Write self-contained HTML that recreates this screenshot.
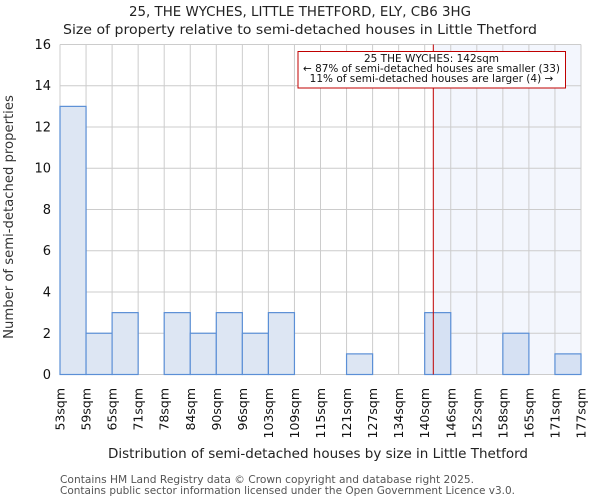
<!DOCTYPE html>
<html><head><meta charset="utf-8"><style>
html,body{margin:0;padding:0;background:#fff;}
svg{display:block;font-family:"DejaVu Sans","Liberation Sans",sans-serif;}
</style></head><body>
<svg width="600" height="500" viewBox="0 0 600 500" xmlns="http://www.w3.org/2000/svg">
<rect width="600" height="500" fill="#fff"/>
<text x="300" y="16" font-size="13.5" text-anchor="middle" fill="#222" textLength="342" lengthAdjust="spacingAndGlyphs">25, THE WYCHES, LITTLE THETFORD, ELY, CB6 3HG</text>
<text x="300" y="34" font-size="13.5" text-anchor="middle" fill="#222" textLength="474" lengthAdjust="spacingAndGlyphs">Size of property relative to semi-detached houses in Little Thetford</text>
<rect x="433.3" y="44.5" width="147.7" height="330" fill="#f3f6fd"/>
<g stroke="#cccccc" stroke-width="1">
<line x1="60" y1="374.5" x2="581" y2="374.5"/>
<line x1="60" y1="333.25" x2="581" y2="333.25"/>
<line x1="60" y1="292" x2="581" y2="292"/>
<line x1="60" y1="250.75" x2="581" y2="250.75"/>
<line x1="60" y1="209.5" x2="581" y2="209.5"/>
<line x1="60" y1="168.25" x2="581" y2="168.25"/>
<line x1="60" y1="127" x2="581" y2="127"/>
<line x1="60" y1="85.75" x2="581" y2="85.75"/>
<line x1="60" y1="44.5" x2="581" y2="44.5"/>
</g>
<g stroke="#cccccc" stroke-width="1" id="vg"></g>
<g id="bars" fill="#dde6f3" stroke="#5b8fd6" stroke-width="1.2"></g>
<line x1="433.3" y1="44.5" x2="433.3" y2="374.5" stroke="#c00000" stroke-width="1"/>
<rect x="298" y="51.5" width="267.5" height="36.5" fill="#fff" stroke="#c00000" stroke-width="1"/>
<g font-size="10.5" text-anchor="middle" fill="#111">
<text x="431.5" y="62">25 THE WYCHES: 142sqm</text>
<text x="431.5" y="72" textLength="257" lengthAdjust="spacingAndGlyphs">← 87% of semi-detached houses are smaller (33)</text>
<text x="431.5" y="82">11% of semi-detached houses are larger (4) →</text>
</g>
<g font-size="13" text-anchor="end" fill="#111">
<text x="51" y="379">0</text><text x="51" y="338">2</text><text x="51" y="296.5">4</text>
<text x="51" y="255">6</text><text x="51" y="214">8</text><text x="51" y="172.5">10</text>
<text x="51" y="131.5">12</text><text x="51" y="90">14</text><text x="51" y="49">16</text>
</g>
<g id="xl" font-size="12.5" fill="#111"></g>
<text transform="translate(13,217) rotate(-90)" font-size="13.2" text-anchor="middle" fill="#333">Number of semi-detached properties</text>
<text x="318" y="458" font-size="13.2" text-anchor="middle" fill="#222" textLength="420" lengthAdjust="spacingAndGlyphs">Distribution of semi-detached houses by size in Little Thetford</text>
<text x="60" y="483" font-size="10.3" fill="#555" textLength="414" lengthAdjust="spacingAndGlyphs">Contains HM Land Registry data © Crown copyright and database right 2025.</text>
<text x="60" y="494" font-size="10.3" fill="#555" textLength="455" lengthAdjust="spacingAndGlyphs">Contains public sector information licensed under the Open Government Licence v3.0.</text>
</svg>
<script>
var ns="http://www.w3.org/2000/svg",w=26.05,x0=60;
var vals=[13,2,3,0,3,2,3,2,3,0,0,1,0,0,3,0,0,2,0,1];
var labs=["53","59","65","71","78","84","90","96","103","109","115","121","127","134","140","146","152","158","165","171","177"];
var vg=document.getElementById("vg"),b=document.getElementById("bars"),xl=document.getElementById("xl");
for(var i=0;i<=20;i++){var l=document.createElementNS(ns,"line");var x=x0+i*w;l.setAttribute("x1",x);l.setAttribute("x2",x);l.setAttribute("y1",44.5);l.setAttribute("y2",374.5);vg.appendChild(l);
var t=document.createElementNS(ns,"text");t.setAttribute("transform","translate("+(x+4.5)+",388) rotate(-90)");t.setAttribute("text-anchor","end");t.textContent=labs[i]+"sqm";xl.appendChild(t);}
for(var i=0;i<20;i++){if(!vals[i])continue;var r=document.createElementNS(ns,"rect");var h=vals[i]*20.625;r.setAttribute("x",x0+i*w);r.setAttribute("y",374.5-h);r.setAttribute("width",w);r.setAttribute("height",h);if(i>=14)r.setAttribute("fill","#d6e1f3");b.appendChild(r);}
</script>
</body></html>
